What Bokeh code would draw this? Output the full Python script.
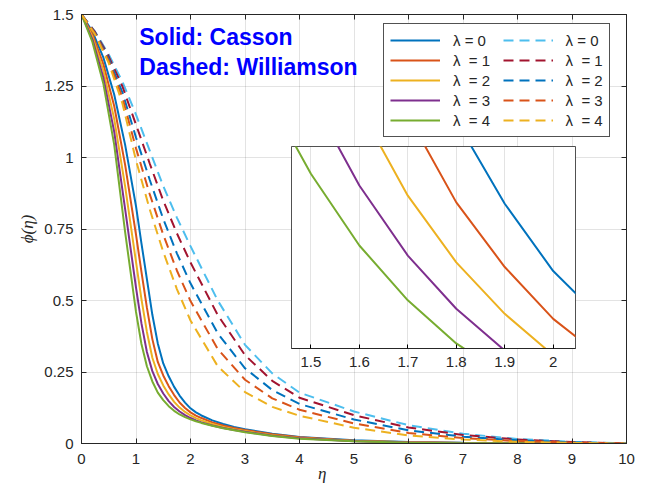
from bokeh.plotting import figure
from bokeh.models import Range1d, Legend, LegendItem, Label, FixedTicker, LinearAxis
from bokeh.layouts import column
from bokeh.embed import file_html
from bokeh.resources import INLINE

# ---------------- data ----------------
lambdas = [0, 1, 2, 3, 4]

# Casson (solid) curves
eta_solid = [0, 0.2, 0.4, 0.6, 0.8, 1.0, 1.1, 1.2, 1.3, 1.4, 1.5, 1.6, 1.7, 1.8, 1.9,
             2.0, 2.1, 2.2, 2.4, 2.6, 2.8, 3.0, 3.5, 4.0, 5.0, 6.0, 7.0, 8.0, 9.0, 10.0]
casson_l0 = [1.5, 1.44, 1.35, 1.22, 1.045, 0.83, 0.70, 0.575, 0.45, 0.35, 0.28, 0.235, 0.198, 0.1677, 0.143,
             0.123, 0.1088, 0.098, 0.081, 0.068, 0.058, 0.050, 0.034, 0.023, 0.011, 0.005, 0.0025, 0.001, 0.0005, 0.0002]
casson_l1 = [1.5, 1.431, 1.327, 1.18, 0.975, 0.73, 0.60, 0.475, 0.365, 0.285, 0.238, 0.2005, 0.1693, 0.1434, 0.1242,
             0.1088, 0.0975, 0.089, 0.074, 0.063, 0.054, 0.047, 0.032, 0.0215, 0.010, 0.0045, 0.002, 0.001, 0.0004, 0.0002]
casson_l2 = [1.5, 1.422, 1.305, 1.135, 0.90, 0.635, 0.505, 0.39, 0.30, 0.243, 0.203, 0.1715, 0.1454, 0.1256, 0.1103,
             0.098, 0.0886, 0.081, 0.068, 0.058, 0.050, 0.0435, 0.029, 0.0195, 0.009, 0.004, 0.0018, 0.0008, 0.0003, 0.0001]
casson_l3 = [1.5, 1.413, 1.28, 1.09, 0.82, 0.545, 0.42, 0.32, 0.253, 0.208, 0.1748, 0.1484, 0.1276, 0.1118, 0.0994,
             0.089, 0.081, 0.074, 0.063, 0.054, 0.047, 0.041, 0.027, 0.018, 0.008, 0.0035, 0.0015, 0.0007, 0.0003, 0.0001]
casson_l4 = [1.5, 1.404, 1.259, 1.045, 0.74, 0.46, 0.348, 0.27, 0.217, 0.178, 0.1519, 0.1306, 0.1143, 0.1015, 0.092,
             0.0845, 0.078, 0.072, 0.062, 0.053, 0.046, 0.039, 0.026, 0.017, 0.0075, 0.003, 0.0013, 0.0006, 0.0002, 0.0001]

# Williamson (dashed) curves
eta_dash = [0, 0.25, 0.5, 0.75, 1.0, 1.25, 1.5, 1.75, 2.0, 2.5, 3.0, 3.5, 4.0, 5.0, 6.0, 7.0, 8.0, 9.0, 10.0]
will_l0 = [1.5, 1.44, 1.36, 1.265, 1.15, 1.025, 0.90, 0.79, 0.69, 0.50, 0.345, 0.245, 0.178, 0.112, 0.064, 0.034, 0.016, 0.006, 0.0]
will_l1 = [1.5, 1.438, 1.353, 1.249, 1.115, 0.98, 0.849, 0.735, 0.633, 0.449, 0.309, 0.219, 0.160, 0.099, 0.056, 0.030, 0.014, 0.005, 0.0]
will_l2 = [1.5, 1.435, 1.345, 1.228, 1.07, 0.923, 0.785, 0.665, 0.56, 0.385, 0.263, 0.187, 0.138, 0.084, 0.046, 0.024, 0.011, 0.004, 0.0]
will_l3 = [1.5, 1.433, 1.338, 1.21, 1.032, 0.873, 0.73, 0.605, 0.498, 0.33, 0.223, 0.158, 0.118, 0.070, 0.037, 0.019, 0.0086, 0.003, 0.0]
will_l4 = [1.5, 1.43, 1.33, 1.19, 0.99, 0.82, 0.67, 0.54, 0.43, 0.27, 0.18, 0.128, 0.097, 0.055, 0.028, 0.014, 0.006, 0.002, 0.0]

x_ticks = [0, 1, 2, 3, 4, 5, 6, 7, 8, 9, 10]
y_ticks = [0, 0.25, 0.5, 0.75, 1, 1.25, 1.5]
y_tick_labels = ["0", "0.25", "0.5", "0.75", "1", "1.25", "1.5"]
inset_ticks = [1.5, 1.6, 1.7, 1.8, 1.9, 2.0]
inset_tick_labels = ["1.5", "1.6", "1.7", "1.8", "1.9", "2"]

solid_colors = ["#0072BD", "#D95319", "#EDB120", "#7E2F8E", "#77AC30"]
dash_colors = ["#4DBEEE", "#A2142F", "#0072BD", "#D95319", "#EDB120"]

casson = [casson_l0, casson_l1, casson_l2, casson_l3, casson_l4]
williamson = [will_l0, will_l1, will_l2, will_l3, will_l4]

AX = "#262626"
FONT = "Liberation Sans"
NB = "\u00a0"

# ---------------- main figure ----------------
p = figure(width=646, height=486, output_backend="svg", toolbar_location=None,
           x_range=Range1d(0, 10), y_range=Range1d(0, 1.5),
           min_border_left=81, min_border_right=20, min_border_top=14, min_border_bottom=43)
p.background_fill_color = "white"
p.border_fill_color = "white"
p.outline_line_color = AX
p.outline_line_alpha = 0.8

for ax in (p.xaxis[0], p.yaxis[0]):
    ax.major_tick_in = 5
    ax.major_tick_out = 0
    ax.minor_tick_line_color = None
    ax.axis_line_color = AX
    ax.major_tick_line_color = AX
    ax.major_label_text_color = AX
    ax.major_label_text_font = FONT
    ax.major_label_text_font_size = "15px"
    ax.axis_label_text_font = "Liberation Serif"
    ax.axis_label_text_font_style = "italic"
    ax.axis_label_text_font_size = "17px"
    ax.axis_label_text_color = AX

p.xaxis.ticker = FixedTicker(ticks=x_ticks)
p.yaxis.ticker = FixedTicker(ticks=y_ticks)
p.yaxis.major_label_overrides = {t: s for t, s in zip(y_ticks, y_tick_labels)}
p.xaxis.major_label_standoff = 10
p.yaxis.major_label_standoff = 8
p.yaxis.axis_label = "ϕ(η)"
p.yaxis.axis_label_standoff = 4
# the x title sits left of centre in the reference; trailing no-break spaces shift it
p.xaxis.axis_label = "η" + NB * 15
p.xaxis.axis_label_standoff = -3

# box ticks on the top and right edges (empty labels)
top_ax = LinearAxis(ticker=FixedTicker(ticks=x_ticks),
                    major_label_overrides={t: "" for t in x_ticks},
                    major_label_standoff=0, major_tick_in=5, major_tick_out=0,
                    minor_tick_line_color=None, axis_line_color=AX, major_tick_line_color=AX)
right_ax = LinearAxis(ticker=FixedTicker(ticks=y_ticks),
                      major_label_overrides={t: "" for t in y_ticks},
                      major_label_standoff=0, major_tick_in=5, major_tick_out=0,
                      minor_tick_line_color=None, axis_line_color=AX, major_tick_line_color=AX)
p.add_layout(top_ax, "above")
p.add_layout(right_ax, "right")

p.xgrid.grid_line_color = AX
p.xgrid.grid_line_alpha = 0.13
p.ygrid.grid_line_color = AX
p.ygrid.grid_line_alpha = 0.13

solid_r = []
for ys, c in zip(casson, solid_colors):
    solid_r.append(p.line(eta_solid, ys, line_color=c, line_width=2))
dash_r = []
for ys, c in zip(williamson, dash_colors):
    dash_r.append(p.line(eta_dash, ys, line_color=c, line_width=2, line_dash="10 6"))

items = []
for lam, r in zip(lambdas, solid_r):
    lab = ("λ = %d" % lam) if lam == 0 else ("λ " + NB + "= %d" % lam)
    items.append(LegendItem(label=lab + NB * 3, renderers=[r]))
for lam, r in zip(lambdas, dash_r):
    lab = ("λ = %d" % lam) if lam == 0 else ("λ " + NB + "= %d" % lam)
    items.append(LegendItem(label=lab, renderers=[r]))

legend = Legend(items=items, ncols=2, location=(302, 306),
                glyph_width=50, glyph_height=20, label_height=20, spacing=0,
                label_standoff=13, padding=6, margin=0,
                label_text_font=FONT, label_text_font_size="15px", label_text_color=AX,
                border_line_color=AX, border_line_alpha=0.8, background_fill_alpha=1.0)
p.add_layout(legend, "center")

p.add_layout(Label(x=1.06, y=1.423, text="Solid: Casson", text_font=FONT, text_font_style="bold",
                   text_font_size="23px", text_color="#0000FF", text_baseline="middle"))
p.add_layout(Label(x=1.06, y=1.318, text="Dashed: Williamson", text_font=FONT, text_font_style="bold",
                   text_font_size="23px", text_color="#0000FF", text_baseline="middle"))

# ---------------- inset ----------------
# (its frame is aligned with the main plot's borders, hence the wide width / left margin)
q = figure(width=385, height=229, output_backend="svg", toolbar_location=None,
           x_range=Range1d(1.46, 2.046), y_range=Range1d(0.10, 0.16), y_axis_location=None,
           min_border_left=81, min_border_right=20, min_border_top=1, min_border_bottom=26)
q.background_fill_color = "white"
q.border_fill_alpha = 0
q.outline_line_color = AX
q.outline_line_alpha = 0.8
q.xaxis.ticker = FixedTicker(ticks=inset_ticks)
q.xaxis.major_label_overrides = {t: s for t, s in zip(inset_ticks, inset_tick_labels)}
q.xaxis.major_tick_in = 4
q.xaxis.major_tick_out = 0
q.xaxis.minor_tick_line_color = None
q.xaxis.axis_line_color = AX
q.xaxis.major_label_text_font = FONT
q.xaxis.major_label_text_font_size = "15px"
q.xaxis.major_label_text_color = AX
q.xaxis.major_label_standoff = 8
q.xgrid.grid_line_color = AX
q.xgrid.grid_line_alpha = 0.13
q.ygrid.visible = False
for ys, c in zip(casson, solid_colors):
    q.line(eta_solid, ys, line_color=c, line_width=2)
q.margin = (-341, 0, 0, 210)

layout = column(p, q)
open("out.html", "w").write(file_html(layout, INLINE))
